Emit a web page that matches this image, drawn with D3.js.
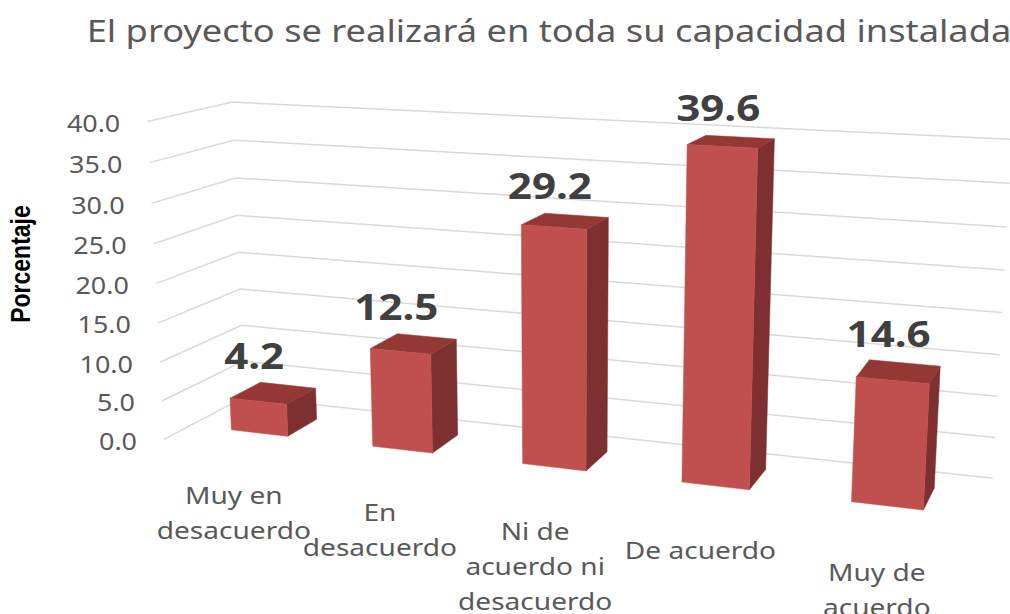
<!DOCTYPE html>
<html><head><meta charset="utf-8">
<script src="https://cdn.jsdelivr.net/npm/d3@7"></script>
<style>body{margin:0;background:#fff}</style>
</head><body>
<svg id="c" width="1010" height="614"></svg>
<script>
// ---- data ----
const categories = [["Muy en","desacuerdo"],["En","desacuerdo"],["Ni de","acuerdo ni","desacuerdo"],["De acuerdo"],["Muy de","acuerdo"]];
const values = [4.2, 12.5, 29.2, 39.6, 14.6];
const yTicks = [0, 5, 10, 15, 20, 25, 30, 35, 40];
const yMax = 40;
const title = "El proyecto se realizará en toda su capacidad instalada";
const yTitle = "Porcentaje";

// ---- 3D camera (yaw, pitch, distance, scale, centre) and box geometry ----
const cam = {yaw:0.3480, pitch:0.2299, dist:10.8275, scale:167.6011, cx:564.6641, cy:297.5779};
const box = {height:2.0094, depth:1.0101, barFront:0.3204, barBack:0.7121, barHalf:0.2028};
const STRETCH = 1.17; // horizontal stretch of text in the reference

const xBand = d3.scaleBand().domain(d3.range(values.length)).range([0, values.length]);
const xC = i => xBand(i) + xBand.bandwidth()/2;
const yScale = d3.scaleLinear().domain([0, yMax]).range([0, box.height]);
const W = values.length;

function project(X, Y, Z){
  const x0 = X - W/2, y0 = Y - box.height/2, z0 = Z - box.depth/2;
  const ca = Math.cos(cam.yaw), sa = Math.sin(cam.yaw), cb = Math.cos(cam.pitch), sb = Math.sin(cam.pitch);
  const x1 = x0*ca + z0*sa, z1 = -x0*sa + z0*ca;
  const y2 = y0*cb + z1*sb, z2 = z1*cb - y0*sb;
  const w = cam.dist/(cam.dist + z2);
  return [cam.cx + cam.scale*x1*w, cam.cy - cam.scale*y2*w];
}

const svg = d3.select("#c");
const fmt = d3.format(".1f");
function stretchedText(g, x, y){
  return g.append("text").attr("transform", `translate(${x},${y}) scale(${STRETCH},1)`);
}

// gridlines on side wall and back wall + tick labels
const grid = svg.append("g");
yTicks.forEach(t => {
  const Y = yScale(t);
  const a = project(0, Y, 0), b = project(0, Y, box.depth), c = project(W, Y, box.depth);
  grid.append("path").attr("d", d3.line()([a, b, c])).attr("fill","none").attr("stroke","#d9d9d9").attr("stroke-width",1.5);
  stretchedText(grid, a[0]-27, a[1]+2).attr("dy","0.36em").attr("text-anchor","end")
    .attr("font-family","Noto Sans").attr("font-size",23).attr("fill","#595959").text(fmt(t));
});

// bars
const bars = svg.append("g");
const labels = svg.append("g");
values.forEach((v,i) => {
  const x0 = xC(i)-box.barHalf, x1 = xC(i)+box.barHalf, h = yScale(v), zf = box.barFront, zk = box.barBack;
  const poly = (pts, col) => bars.append("path").attr("d", d3.line()(pts)+"Z").attr("fill", col).attr("stroke", col).attr("stroke-width",0.5);
  poly([project(x1,0,zf),project(x1,0,zk),project(x1,h,zk),project(x1,h,zf)], "#7d302f");
  poly([project(x0,h,zf),project(x1,h,zf),project(x1,h,zk),project(x0,h,zk)], "#943836");
  poly([project(x0,0,zf),project(x1,0,zf),project(x1,h,zf),project(x0,h,zf)], "#c0504d");
  const top = project(xC(i), h, zk), fr = project(xC(i), h, zf);
  stretchedText(labels, fr[0]-4, top[1]-16).attr("text-anchor","middle")
    .attr("font-family","Noto Sans").attr("font-weight","bold").attr("font-size",36).attr("fill","#404040").text(fmt(v));
});

// category labels
categories.forEach((lines,i) => {
  const a = project(xC(i), 0, 0);
  const t = stretchedText(svg, a[0], a[1]+56).attr("text-anchor","middle").attr("font-family","Noto Sans")
    .attr("font-size",24).attr("fill","#595959");
  lines.forEach((l,k) => t.append("tspan").attr("x", 0).attr("y", k*35).text(l));
});

// titles
stretchedText(svg, 549, 42).attr("text-anchor","middle").attr("font-family","Noto Sans")
  .attr("font-size",31).attr("fill","#595959").text(title);
svg.append("text").attr("transform",`translate(30,264) scale(${STRETCH},1) rotate(-90)`).attr("text-anchor","middle")
  .attr("font-family","Liberation Sans").attr("font-weight","bold").attr("font-size",23).attr("fill","#000").text(yTitle);
</script></body></html>
